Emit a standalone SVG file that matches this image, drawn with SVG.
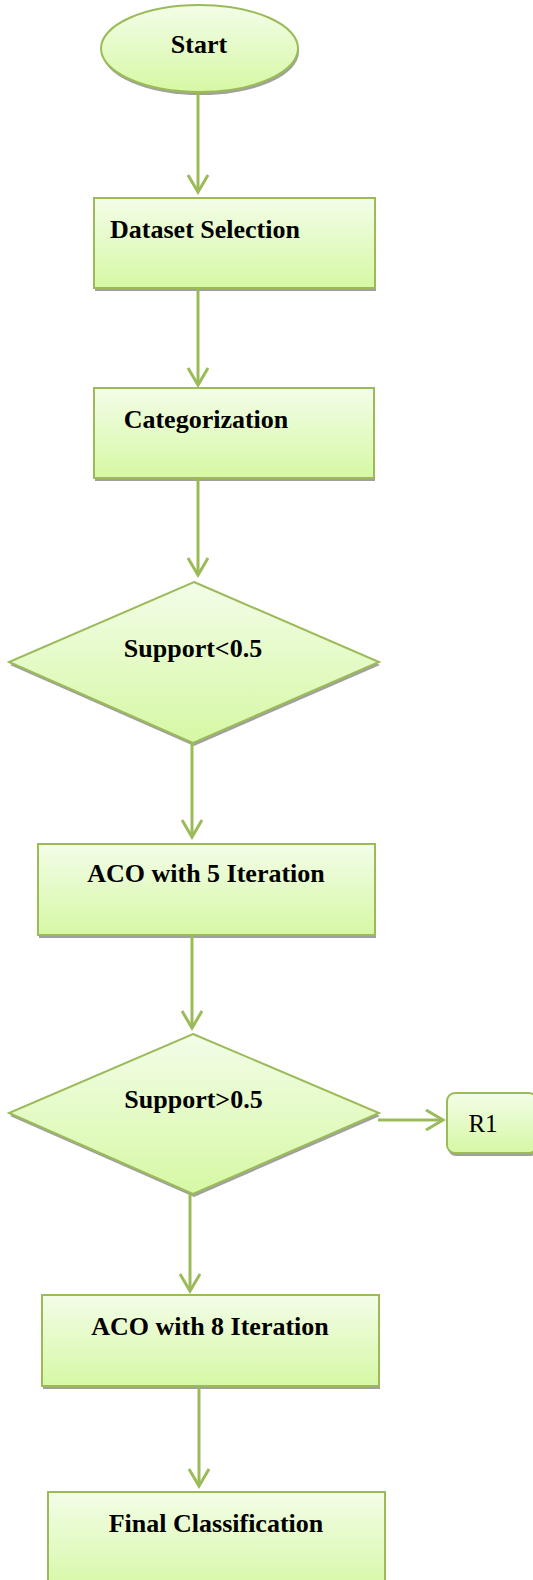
<svg xmlns="http://www.w3.org/2000/svg" width="533" height="1580" viewBox="0 0 533 1580">
<defs>
<linearGradient id="g" x1="0" y1="0" x2="0" y2="1">
<stop offset="0" stop-color="#f3fde8"/>
<stop offset="1" stop-color="#d6f8a4"/>
</linearGradient>
<marker id="arr" markerWidth="24" markerHeight="24" refX="18" refY="11" orient="auto" markerUnits="userSpaceOnUse">
<path d="M1,1 L18,11 L1,21" fill="none" stroke="#9bbb59" stroke-width="3"/>
</marker>
</defs>
<style>
.sh{fill:#a0a0a0}
.nd{fill:url(#g);stroke:#9bbb59;stroke-width:2}
.t{font-family:"Liberation Serif","Times New Roman",serif;font-weight:bold;font-size:26px;fill:#000;text-anchor:middle}
.tr{font-family:"Liberation Serif","Times New Roman",serif;font-size:25px;fill:#000;text-anchor:middle}
.c{fill:none;stroke:#9bbb59;stroke-width:3}
</style>
<g id="start">
<ellipse class="sh" cx="200.5" cy="51.5" rx="98.5" ry="43.5"/>
<ellipse class="nd" cx="199.5" cy="48.5" rx="98.5" ry="43.5"/>
<text class="t" x="199" y="53">Start</text>
</g>
<g id="dataset">
<rect class="sh" x="95" y="201" width="281" height="90"/>
<rect class="nd" x="94" y="198" width="281" height="90"/>
<text class="t" x="205" y="238">Dataset Selection</text>
</g>
<g id="categorization">
<rect class="sh" x="95" y="391" width="280" height="90"/>
<rect class="nd" x="94" y="388" width="280" height="90"/>
<text class="t" x="206" y="428">Categorization</text>
</g>
<g id="support1">
<polygon class="sh" points="195,585 380,665 194,746 10,665"/>
<polygon class="nd" points="194,582 379,662 193,743 9,662"/>
<text class="t" x="193" y="657">Support&lt;0.5</text>
</g>
<g id="aco5">
<rect class="sh" x="39" y="847" width="337" height="91"/>
<rect class="nd" x="38" y="844" width="337" height="91"/>
<text class="t" x="206" y="882">ACO with 5 Iteration</text>
</g>
<g id="support2">
<polygon class="sh" points="194,1037 380,1116 194,1197 10,1116"/>
<polygon class="nd" points="193,1034 379,1113 193,1194 9,1113"/>
<text class="t" x="193.5" y="1108">Support&gt;0.5</text>
</g>
<g id="r1">
<rect class="sh" x="448" y="1096" width="90" height="60" rx="8"/>
<rect class="nd" x="447" y="1093" width="90" height="60" rx="8"/>
<text class="tr" x="483" y="1132">R1</text>
</g>
<g id="aco8">
<rect class="sh" x="43" y="1298" width="337" height="91"/>
<rect class="nd" x="42" y="1295" width="337" height="91"/>
<text class="t" x="210" y="1335">ACO with 8 Iteration</text>
</g>
<g id="final">
<rect class="sh" x="49" y="1495" width="337" height="100"/>
<rect class="nd" x="48" y="1492" width="337" height="100"/>
<text class="t" x="216" y="1532">Final Classification</text>
</g>
<g id="connectors">
<line class="c" x1="198" y1="94" x2="198" y2="192" marker-end="url(#arr)"/>
<line class="c" x1="198" y1="288" x2="198" y2="385" marker-end="url(#arr)"/>
<line class="c" x1="198" y1="478" x2="198" y2="575" marker-end="url(#arr)"/>
<line class="c" x1="192" y1="743" x2="192" y2="837" marker-end="url(#arr)"/>
<line class="c" x1="192" y1="935" x2="192" y2="1028" marker-end="url(#arr)"/>
<line class="c" x1="378" y1="1120" x2="443" y2="1120" marker-end="url(#arr)"/>
<line class="c" x1="190" y1="1194" x2="190" y2="1291" marker-end="url(#arr)"/>
<line class="c" x1="199" y1="1386" x2="199" y2="1486" marker-end="url(#arr)"/>
</g>
</svg>
